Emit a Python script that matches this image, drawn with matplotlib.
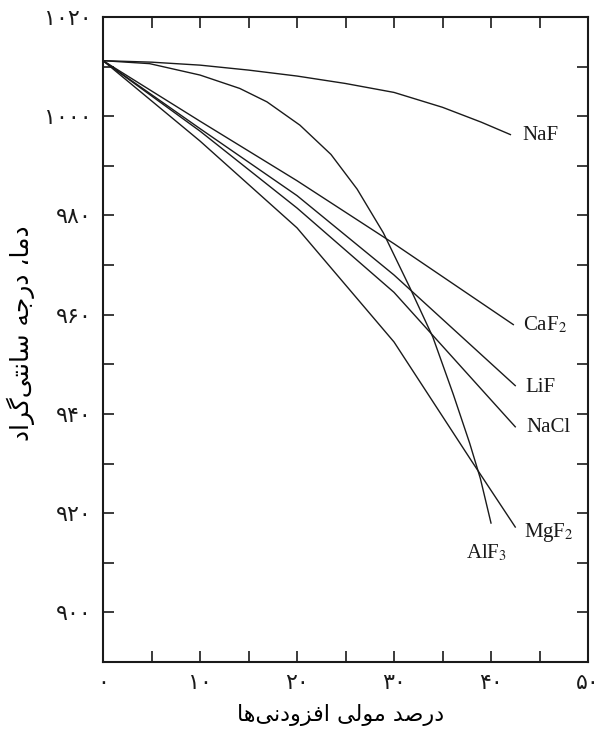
import matplotlib
matplotlib.use('Agg')
import matplotlib.pyplot as plt
from matplotlib.ticker import MultipleLocator

plt.rcParams['font.family'] = ['DejaVu Sans']
plt.rcParams['mathtext.fontset'] = 'stix'

# Data (mol % additive, temperature in C)
naf_x = [0, 5, 10, 15, 20, 25, 30, 35, 39, 42]
naf_y = [1011.2, 1010.9, 1010.3, 1009.3, 1008.1, 1006.6, 1004.8, 1001.8, 998.8, 996.3]

caf2_x = [0, 10, 20, 30, 42.3]
caf2_y = [1011.2, 999, 987, 974.3, 958]

lif_x = [0, 10, 20, 30, 42.5]
lif_y = [1011.2, 997.5, 984, 968, 945.7]

nacl_x = [0, 10, 20, 30, 42.5]
nacl_y = [1011.2, 997, 981.5, 964.5, 937.4]

mgf2_x = [0, 10, 20, 30, 38, 42.5]
mgf2_y = [1011.2, 995, 977.5, 954.5, 930.5, 917.2]

alf3_x = [0, 4.8, 10, 14.1, 16.9, 20.3, 23.5, 26.2, 28.9, 31.6, 34, 36.1, 37.8, 38.9, 40.0]
alf3_y = [1011.2, 1010.6, 1008.3, 1005.6, 1002.9, 998.2, 992.3, 985.3, 976.5, 965.6, 955.5, 944,
          934.1, 927, 918]

xtick_vals = [0, 10, 20, 30, 40, 50]
xtick_labels = ['۰', '۱۰', '۲۰', '۳۰', '۴۰', '۵۰']
ytick_vals = [900, 920, 940, 960, 980, 1000, 1020]
ytick_labels = ['۹۰۰', '۹۲۰', '۹۴۰', '۹۶۰', '۹۸۰', '۱۰۰۰', '۱۰۲۰']

xlabel_fa = 'درصد مولی افزودنی‌ها'
ylabel_fa = 'دما، درجه سانتی‌گراد'

# minimal Persian shaping (no reshaper available): iso, final, initial, medial
FORMS = {
    'ا': ('\uFE8D', '\uFE8E', None, None),
    'د': ('\uFEA9', '\uFEAA', None, None),
    'ر': ('\uFEAD', '\uFEAE', None, None),
    'ز': ('\uFEAF', '\uFEB0', None, None),
    'و': ('\uFEED', '\uFEEE', None, None),
    'م': ('\uFEE1', '\uFEE2', '\uFEE3', '\uFEE4'),
    'ج': ('\uFE9D', '\uFE9E', '\uFE9F', '\uFEA0'),
    'ه': ('\uFEE9', '\uFEEA', '\uFEEB', '\uFEEC'),
    'س': ('\uFEB1', '\uFEB2', '\uFEB3', '\uFEB4'),
    'ن': ('\uFEE5', '\uFEE6', '\uFEE7', '\uFEE8'),
    'ت': ('\uFE95', '\uFE96', '\uFE97', '\uFE98'),
    'ی': ('\uFEEF', '\uFEF0', '\uFEF3', '\uFEF4'),
    'گ': ('\uFB92', '\uFB93', '\uFB94', '\uFB95'),
    'ص': ('\uFEB9', '\uFEBA', '\uFEBB', '\uFEBC'),
    'ل': ('\uFEDD', '\uFEDE', '\uFEDF', '\uFEE0'),
    'ف': ('\uFED1', '\uFED2', '\uFED3', '\uFED4'),
}


def shape(text):
    out = []
    for i, c in enumerate(text):
        if c not in FORMS:
            if c != '\u200c':
                out.append(c)
            continue
        prev = text[i - 1] if i > 0 else None
        nxt = text[i + 1] if i + 1 < len(text) else None
        iso, fin, ini, med = FORMS[c]
        jp = prev in FORMS and FORMS[prev][2] is not None
        jn = ini is not None and nxt in FORMS
        if jp and jn:
            out.append(med)
        elif jp:
            out.append(fin)
        elif jn:
            out.append(ini)
        else:
            out.append(iso)
    return ''.join(reversed(out))


fig = plt.figure(figsize=(6, 7.3), dpi=100)
ax = fig.add_axes([0.1717, 0.0932, 0.8083, 0.8835])

lc = '#1a1a1a'
lw = 1.0
for xs, ys in [(naf_x, naf_y), (caf2_x, caf2_y), (lif_x, lif_y),
               (nacl_x, nacl_y), (mgf2_x, mgf2_y), (alf3_x, alf3_y)]:
    ax.plot(xs, ys, color=lc, lw=lw)

lab_font = dict(family='Liberation Serif', fontsize=15, color='#1a1a1a', va='center', ha='left')
ax.text(43.2, 996.2, 'NaF', **lab_font)
ax.text(43.3, 957.9, 'CaF$_2$', **lab_font)
ax.text(43.5, 945.4, 'LiF', **lab_font)
ax.text(43.6, 937.3, 'NaCl', **lab_font)
ax.text(43.4, 916.0, 'MgF$_2$', **lab_font)
ax.text(37.4, 912.0, 'AlF$_3$', **lab_font)

ax.set_xlim(0, 50)
ax.set_ylim(890, 1020)
ax.set_xticks(xtick_vals)
ax.set_xticklabels(xtick_labels, fontsize=16)
ax.set_yticks(ytick_vals)
ax.set_yticklabels(ytick_labels, fontsize=16)
ax.xaxis.set_minor_locator(MultipleLocator(5))
ax.yaxis.set_minor_locator(MultipleLocator(10))
ax.tick_params(which='both', direction='in', length=8, width=1.2,
               top=True, right=True, pad=8, colors='#1a1a1a')

for s in ax.spines.values():
    s.set_linewidth(1.5)
    s.set_color('#1a1a1a')

ax.set_xlabel(shape(xlabel_fa), fontsize=16, va='center', ha='center')
ax.set_ylabel(shape(ylabel_fa), fontsize=18, va='center', ha='center')
ax.xaxis.set_label_coords(0.49, -0.083)
ax.yaxis.set_label_coords(-0.17, 0.51)

fig.savefig('out.png', dpi=100)
